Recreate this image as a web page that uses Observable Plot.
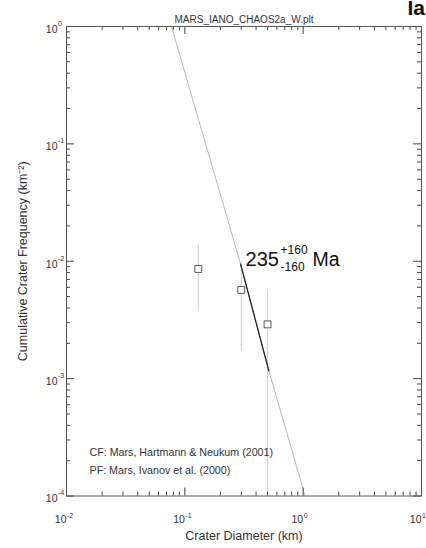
<!DOCTYPE html>
<html><head><meta charset="utf-8">
<script src="https://cdn.jsdelivr.net/npm/d3@7"></script>
<script src="https://cdn.jsdelivr.net/npm/@observablehq/plot@0.6"></script>
<style>
body{margin:0;background:#fff;}
#chart{position:relative;width:426px;height:548px;}
#chart svg{display:block;position:absolute;top:0;left:0;}
</style>
</head><body><div id="chart"></div>
<script>
// crater data (cumulative)
const diameters   = [0.13, 0.30, 0.50];
const frequencies = [0.0086, 0.0057, 0.0029];
const errUpper    = [0.0136, 0.0097, 0.0057];
const errLower    = [0.0037, 0.0017, 0.0001];
// isochron (production function at 235 Ma)
const isoD = [0.0772, 0.0834, 0.2596, 0.296, 0.513, 1.0, 1.04];
const isoN = [1.0, 0.760, 0.01496, 0.00946, 0.001164, 0.000115, 0.0000955];
// fitted range
const fitD = [0.296, 0.513];
const fitN = [0.00946, 0.001164];
// ticks
const xMajor = [0.01, 0.1, 1, 10];
const xExp = ["-2", "-1", "0", "1"];
const xMinor = [0.02,0.03,0.04,0.05,0.06,0.07,0.08,0.09,0.2,0.3,0.4,0.5,0.6,0.7,0.8,0.9,2,3,4,5,6,7,8,9];
const yMajor = [1e-4, 1e-3, 1e-2, 1e-1, 1];
const yExp = ["-4", "-3", "-2", "-1", "0"];
const yMinor = [2e-4,3e-4,4e-4,5e-4,6e-4,7e-4,8e-4,9e-4,2e-3,3e-3,4e-3,5e-3,6e-3,7e-3,8e-3,9e-3,2e-2,3e-2,4e-2,5e-2,6e-2,7e-2,8e-2,9e-2,0.2,0.3,0.4,0.5,0.6,0.7,0.8,0.9];

const points = diameters.map((d, i) => ({d, n: frequencies[i], hi: errUpper[i], lo: errLower[i]}));
const iso = isoD.map((d, i) => ({d, n: isoN[i]}));
const fit = fitD.map((d, i) => ({d, n: fitN[i]}));
const xLab = xMajor.map((v, i) => ({v, e: xExp[i]}));
const yLab = yMajor.map((v, i) => ({v, e: yExp[i]}));

const FONT = "'Liberation Sans', Arial, Helvetica, sans-serif";
const INK = "#333";

const W = 426, H = 548, ML = 66, MR = 5, MT = 26, MB = 52.5;
const PW = W - ML - MR, PH = H - MT - MB;
const MAJ = 8, MIN = 4;
const tickStyle = {stroke: "#444", strokeWidth: 1};

const layout = {
  width: W, height: H,
  marginTop: MT, marginLeft: ML, marginRight: MR, marginBottom: MB,
  x: {type: "log", domain: [0.01, 10], axis: null},
  y: {type: "log", domain: [1e-4, 1], axis: null}
};

// main layer: data, labels
const chart = Plot.plot({
  ...layout,
  style: {fontFamily: FONT, background: "white"},
  marks: [
    Plot.ruleX(points, {x: "d", y1: "lo", y2: "hi", stroke: "#cfcfcf", strokeWidth: 1, clip: true}),
    Plot.line(iso, {x: "d", y: "n", stroke: "#b8b8b8", strokeWidth: 1, clip: true}),
    Plot.line(fit, {x: "d", y: "n", stroke: "#222", strokeWidth: 1.3}),
    Plot.dot(points, {x: "d", y: "n", symbol: "square", r: 3.9, stroke: "#555", fill: "white", strokeWidth: 1}),
    Plot.text(xLab, {x: "v", frameAnchor: "bottom", text: () => "10", textAnchor: "end", dy: 27, fontSize: 10.5, fill: INK}),
    Plot.text(xLab, {x: "v", frameAnchor: "bottom", text: "e", textAnchor: "start", dx: 0.5, dy: 22, fontSize: 7, fill: INK}),
    Plot.text(yLab, {y: "v", frameAnchor: "left", text: () => "10", textAnchor: "end", dx: -9, dy: 3, fontSize: 10.5, fill: INK}),
    Plot.text(yLab, {y: "v", frameAnchor: "left", text: "e", textAnchor: "start", dx: -8.5, dy: -3, fontSize: 7, fill: INK}),
    Plot.text(["Crater Diameter (km)"], {frameAnchor: "bottom", textAnchor: "middle", dy: 44, fontSize: 12.5, fill: INK}),
    Plot.text(["Cumulative Crater Frequency (km⁻²)"], {frameAnchor: "left", textAnchor: "middle", dx: -44, rotate: -90, fontSize: 12.5, fill: INK}),
    Plot.text(["MARS_IANO_CHAOS2a_W.plt"], {frameAnchor: "top", textAnchor: "middle", dy: -11, fontSize: 10, fill: INK}),
    Plot.text(["Ia"], {frameAnchor: "top-right", textAnchor: "start", lineAnchor: "bottom", dx: -14, dy: -12, fontSize: 21, fontWeight: "bold", fill: "#111"}),
    Plot.text(["CF: Mars, Hartmann & Neukum (2001)"], {frameAnchor: "bottom-left", textAnchor: "start", dx: 23, dy: -40, fontSize: 10.7, fill: INK}),
    Plot.text(["PF: Mars, Ivanov et al. (2000)"], {frameAnchor: "bottom-left", textAnchor: "start", dx: 23, dy: -22.5, fontSize: 10.7, fill: INK}),
    Plot.text(fit.slice(0, 1), {x: "d", y: "n", text: () => "235", textAnchor: "start", lineAnchor: "bottom", dx: 5, dy: 2, fontSize: 20, fill: "#111"}),
    Plot.text(fit.slice(0, 1), {x: "d", y: "n", text: () => "+160", textAnchor: "start", dx: 40, dy: -14, fontSize: 12, fill: "#111"}),
    Plot.text(fit.slice(0, 1), {x: "d", y: "n", text: () => "-160", textAnchor: "start", dx: 40, dy: 3, fontSize: 12, fill: "#111"}),
    Plot.text(fit.slice(0, 1), {x: "d", y: "n", text: () => "Ma", textAnchor: "start", lineAnchor: "bottom", dx: 72, dy: 2, fontSize: 19.5, fill: "#111"})
  ]
});

// overlay layer: frame with inward ticks on all four sides
const frameLayer = Plot.plot({
  ...layout,
  style: {background: "none"},
  marks: [
    Plot.ruleX(xMajor, {x: d => d, insetTop: PH - MAJ, ...tickStyle}),
    Plot.ruleX(xMinor, {x: d => d, insetTop: PH - MIN, ...tickStyle}),
    Plot.ruleX(xMajor, {x: d => d, insetBottom: PH - MAJ, ...tickStyle}),
    Plot.ruleX(xMinor, {x: d => d, insetBottom: PH - MIN, ...tickStyle}),
    Plot.ruleY(yMajor, {y: d => d, insetRight: PW - MAJ, ...tickStyle}),
    Plot.ruleY(yMinor, {y: d => d, insetRight: PW - MIN, ...tickStyle}),
    Plot.ruleY(yMajor, {y: d => d, insetLeft: PW - MAJ, ...tickStyle}),
    Plot.ruleY(yMinor, {y: d => d, insetLeft: PW - MIN, ...tickStyle}),
    Plot.frame({stroke: "#555", strokeWidth: 1})
  ]
});

const host = document.getElementById("chart");
host.appendChild(chart);
host.appendChild(frameLayer);
</script>
</body></html>
